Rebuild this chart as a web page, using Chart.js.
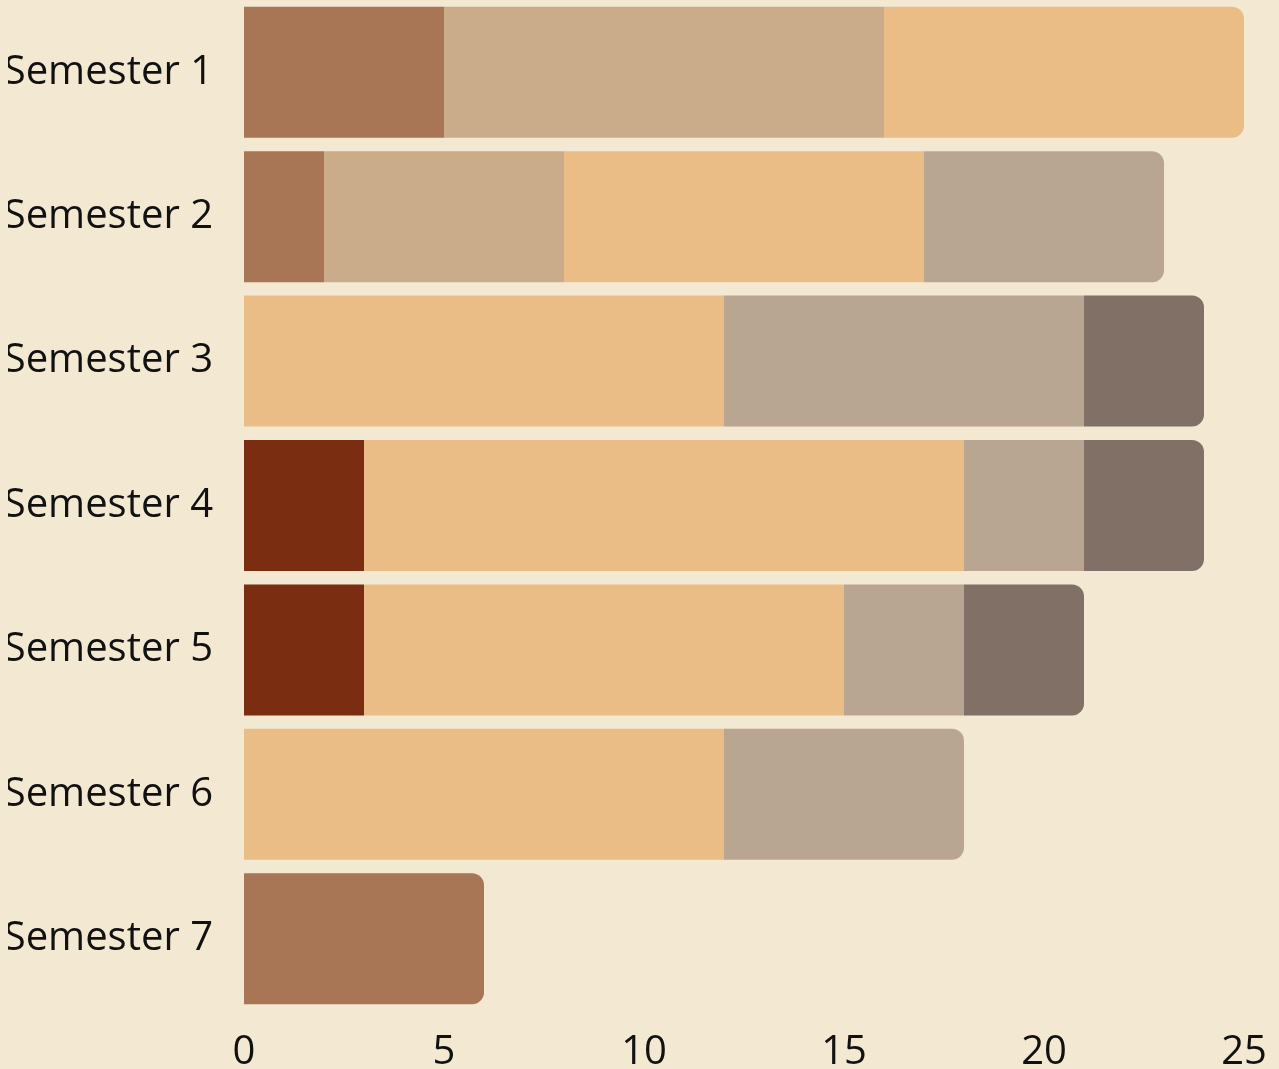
<!DOCTYPE html>
<html>
<head>
<meta charset="utf-8">
<script src="https://cdn.jsdelivr.net/npm/chart.js@4"></script>
<style>
  html, body { margin: 0; padding: 0; background: #f3e8d2; }
  #wrap { width: 1279px; height: 1069px; }
</style>
</head>
<body>
<div id="wrap"><canvas id="myChart"></canvas></div>
<script>
const semesters = ['Semester 1', 'Semester 2', 'Semester 3', 'Semester 4', 'Semester 5', 'Semester 6', 'Semester 7'];
const seriesA = [null, null, null, 3, 3, null, null];
const seriesB = [5, 2, null, null, null, null, 6];
const seriesC = [11, 6, null, null, null, null, null];
const seriesD = [9, 9, 12, 15, 12, 12, null];
const seriesE = [null, 6, 9, 3, 3, 6, null];
const seriesF = [null, null, 3, 3, 3, null, null];
const xTicks = [0, 5, 10, 15, 20, 25];

const colors = ['#7a2d10', '#a87555', '#cbac8a', '#eabd86', '#b8a693', '#807065'];
const allSeries = [seriesA, seriesB, seriesC, seriesD, seriesE, seriesF];
const names = ['A', 'B', 'C', 'D', 'E', 'F'];

const drawChart = () => {
    const ctx = document.getElementById('myChart').getContext('2d');
    const grafica = new Chart(ctx, {
        type: 'bar',
        data: {
            labels: semesters,
            datasets: allSeries.map((s, i) => ({
                label: names[i],
                data: s,
                backgroundColor: colors[i],
                borderWidth: 0,
                borderRadius: 12,
                borderSkipped: 'start',
                barPercentage: 0.907,
                categoryPercentage: 1
            }))
        },
        options: {
            indexAxis: 'y',
            responsive: true,
            maintainAspectRatio: false,
            animation: false,
            layout: { padding: { left: 8, right: 35, top: 0, bottom: 0 } },
            plugins: { legend: { display: false }, tooltip: { enabled: false } },
            scales: {
                x: {
                    stacked: true,
                    min: 0,
                    max: 25,
                    afterBuildTicks: (axis) => { axis.ticks = xTicks.map(v => ({ value: v })); },
                    grid: { display: false, drawTicks: false },
                    border: { display: false },
                    ticks: { color: '#111', padding: 18, font: { family: 'Open Sans', size: 40 } },
                    afterFit: (scale) => { scale.height = 58; scale.paddingLeft = 0; scale.paddingRight = 0; }
                },
                y: {
                    stacked: true,
                    grid: { display: false, drawTicks: false },
                    border: { display: false },
                    ticks: { color: '#111', padding: 31, font: { family: 'Open Sans', size: 40 } },
                    afterFit: (scale) => { scale.width = 236; scale.paddingTop = 0; scale.paddingBottom = 0; }
                }
            }
        }
    });
};

document.fonts.load('40px "Open Sans"').then(drawChart, drawChart);
</script>
</body>
</html>
